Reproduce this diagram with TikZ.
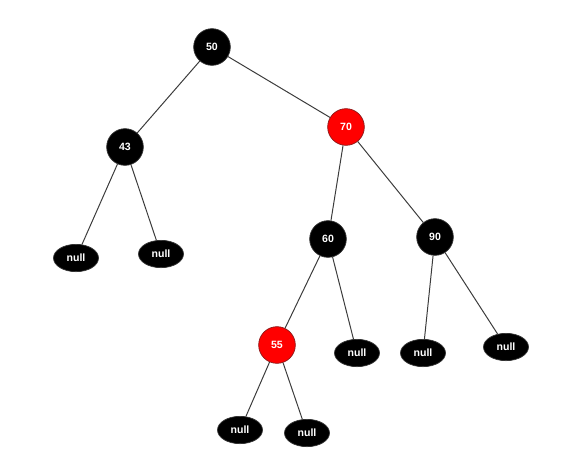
\documentclass[tikz,border=0pt]{standalone}
\usepackage{fontspec}
\setmainfont{Liberation Sans}
\usetikzlibrary{shapes.geometric}
\definecolor{cRed}{HTML}{FF0000}
\definecolor{cRedB}{HTML}{8A1A1A}
\definecolor{cBlkB}{HTML}{333333}
\definecolor{cEdge}{HTML}{3C3C3C}
\tikzset{
  keynode/.style  ={circle, draw=cBlkB, fill=black, text=white,
                    font=\bfseries\small, line width=0.6pt,
                    minimum size=1.1cm, inner sep=0pt},
  rednode/.style  ={keynode, fill=cRed, draw=cRedB},
  nullnode/.style ={ellipse, draw=cBlkB, fill=black, text=white,
                    font=\bfseries\small, line width=0.6pt,
                    minimum width=1.35cm, minimum height=0.82cm, inner sep=0pt},
  link/.style     ={draw=cEdge, line width=0.85pt},
}
\begin{document}
\begin{tikzpicture}[x=0.03cm, y=-0.03cm]

  \useasboundingbox (0,0) rectangle (578,465);

  % keys
  \node[keynode] (k50) at (212,47)  {50};
  \node[keynode] (k43) at (125,147) {43};
  \node[rednode] (k70) at (346,127) {70};
  \node[keynode] (k60) at (328,239) {60};
  \node[keynode] (k90) at (435,237) {90};
  \node[rednode] (k55) at (277,345) {55};

  % null leaves
  \node[nullnode] (n1) at (76,258)  {null};
  \node[nullnode] (n2) at (161,254) {null};
  \node[nullnode] (n3) at (357,353) {null};
  \node[nullnode] (n4) at (423,353) {null};
  \node[nullnode] (n5) at (506,347) {null};
  \node[nullnode] (n6) at (240,430) {null};
  \node[nullnode] (n7) at (307,433) {null};

  % edges
  \draw[link] (k50) -- (k43);
  \draw[link] (k50) -- (k70);
  \draw[link] (k43) -- (n1);
  \draw[link] (k43) -- (n2);
  \draw[link] (k70) -- (k60);
  \draw[link] (k70) -- (k90);
  \draw[link] (k60) -- (k55);
  \draw[link] (k60) -- (n3);
  \draw[link] (k90) -- (n4);
  \draw[link] (k90) -- (n5);
  \draw[link] (k55) -- (n6);
  \draw[link] (k55) -- (n7);

\end{tikzpicture}
\end{document}
